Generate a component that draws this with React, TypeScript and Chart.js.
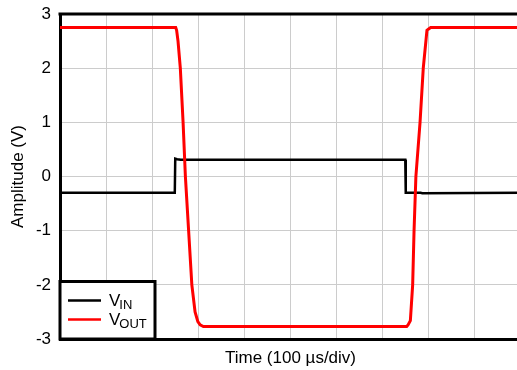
import React, { useEffect, useRef } from "react";
import { Chart, registerables } from "chart.js";

Chart.register(...registerables);

// time in µs (100 µs per division), amplitude in V
const vinTime = [0, 249, 250, 254, 262, 749, 750, 782, 786, 1000];
const vinVolts = [-0.3, -0.3, 0.33, 0.32, 0.31, 0.31, -0.3, -0.3, -0.31, -0.3];

const voutTime = [0, 251, 253, 256, 261, 267, 272, 279, 286, 293, 299, 304, 311, 752, 755, 760, 765, 768, 772, 781, 788, 796, 799, 804, 1000];
const voutVolts = [2.75, 2.75, 2.7, 2.5, 2.0, 1.0, 0.0, -1.0, -2.0, -2.5, -2.68, -2.74, -2.77, -2.77, -2.74, -2.66, -2.0, -1.0, 0.0, 1.0, 2.0, 2.7, 2.72, 2.75, 2.75];

const yTicks = [-3, -2, -1, 0, 1, 2, 3];
const legendLabels = [
  { main: "V", sub: "IN", color: "#000000" },
  { main: "V", sub: "OUT", color: "#ff0000" },
];

const FONT = "'Liberation Sans', Arial, Helvetica, sans-serif";

const framePlugin = {
  id: "frame",
  afterDraw(chart: any) {
    const { ctx, chartArea } = chart;
    const { left, right, top, bottom } = chartArea;
    ctx.save();
    // top border
    ctx.strokeStyle = "#000";
    ctx.lineWidth = 3;
    ctx.beginPath();
    ctx.moveTo(left - 1.5, top);
    ctx.lineTo(right + 2, top);
    ctx.stroke();

    // legend box
    const bx = left;
    const by = bottom - 57.5;
    const bw = 95;
    const bh = 57.5;
    ctx.fillStyle = "#fff";
    ctx.fillRect(bx, by, bw, bh);
    ctx.lineWidth = 3;
    ctx.strokeStyle = "#000";
    ctx.strokeRect(bx, by, bw, bh);

    legendLabels.forEach((item, i) => {
      const y = by + 19 + i * 19;
      ctx.strokeStyle = item.color;
      ctx.lineWidth = 2.5;
      ctx.beginPath();
      ctx.moveTo(bx + 8, y);
      ctx.lineTo(bx + 41, y);
      ctx.stroke();
      ctx.fillStyle = "#000";
      ctx.textBaseline = "alphabetic";
      ctx.textAlign = "left";
      ctx.font = `17px ${FONT}`;
      const tx = bx + 49;
      ctx.fillText(item.main, tx, y + 5);
      const w = ctx.measureText(item.main).width;
      ctx.font = `13px ${FONT}`;
      ctx.fillText(item.sub, tx + w - 1, y + 8);
    });
    ctx.restore();
  },
};

export default function App() {
  const ref = useRef<HTMLCanvasElement>(null);

  useEffect(() => {
    document.body.style.margin = "0";
    document.body.style.overflow = "hidden";
    const canvas = ref.current!;
    const chart = new Chart(canvas, {
      type: "line",
      data: {
        datasets: [
          {
            label: "VIN",
            data: vinTime.map((t, i) => ({ x: t, y: vinVolts[i] })),
            borderColor: "#000000",
            borderWidth: 2.5,
            pointRadius: 0,
            tension: 0,
            order: 2,
          },
          {
            label: "VOUT",
            data: voutTime.map((t, i) => ({ x: t, y: voutVolts[i] })),
            borderColor: "#ff0000",
            borderWidth: 3,
            pointRadius: 0,
            tension: 0,
            order: 1,
          },
        ],
      },
      options: {
        animation: false,
        responsive: false,
        events: [],
        layout: { padding: { top: 14, left: 0, right: 0, bottom: 0 } },
        plugins: {
          legend: { display: false },
          tooltip: { enabled: false },
        },
        scales: {
          x: {
            type: "linear",
            min: 0,
            max: 1000,
            ticks: { display: false, stepSize: 100 },
            grid: { color: "#cccccc", lineWidth: 1, drawTicks: false },
            border: { color: "#000", width: 3 },
            title: {
              display: true,
              text: "Time (100 µs/div)",
              color: "#000",
              font: { family: FONT, size: 17 },
              padding: { top: 0, bottom: 1 },
            },
            afterFit: (s: any) => {
              s.height = 31;
            },
          },
          y: {
            type: "linear",
            min: -3,
            max: 3,
            afterBuildTicks: (s: any) => {
              s.ticks = yTicks.map((v) => ({ value: v }));
            },
            afterFit: (s: any) => {
              s.width = 60;
              s.paddingTop = 0;
              s.paddingBottom = 0;
            },
            ticks: {
              color: "#000",
              font: { family: FONT, size: 17 },
              padding: 9,
            },
            grid: { color: "#cccccc", lineWidth: 1, drawTicks: false },
            border: { color: "#000", width: 3 },
            title: {
              display: true,
              text: "Amplitude (V)",
              color: "#000",
              font: { family: FONT, size: 17 },
              padding: { top: 8, bottom: 0 },
            },
          },
        },
      },
      plugins: [framePlugin],
    });
    return () => chart.destroy();
  }, []);

  return (
    <div style={{ position: "fixed", left: 0, top: 0, width: 517, height: 370, overflow: "hidden", background: "#fff" }}>
      <canvas ref={ref} width={521} height={370} style={{ display: "block" }} />
    </div>
  );
}
